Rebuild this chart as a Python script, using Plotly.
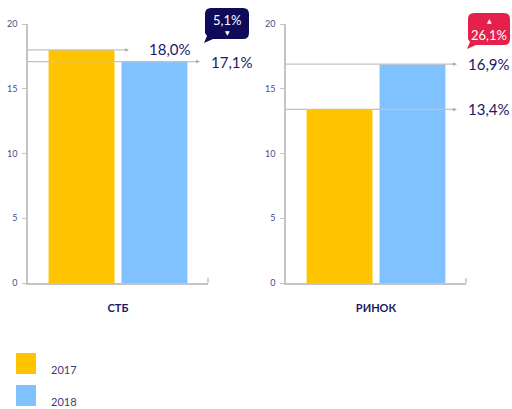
import plotly.graph_objects as go

# ---- data ----
categories = ["СТБ", "РИНОК"]
years = ["2017", "2018"]
values_2017 = [18.0, 13.4]
values_2018 = [17.1, 16.9]
changes = ["5,1%", "26,1%"]
change_dir = ["down", "up"]
y_ticks = [0, 5, 10, 15, 20]

colors = ["#FFC400", "#80C1FF"]
navy = "#1b1a66"
axis_grey = "#c4c4c4"
W, H = 512, 409
FONT = "Lato"


def px(x):
    return x / W


def py(y):
    return 1 - y / H


def fmt(v):
    return f"{v:.1f}".replace(".", ",") + "%"


fig = go.Figure()
series = [values_2017, values_2018]
axes = [("x", "y"), ("x2", "y2")]
for ci, cat in enumerate(categories):
    xa, ya = axes[ci]
    for si, yr in enumerate(years):
        fig.add_trace(go.Bar(
            x=[cat], y=[series[si][ci]], name=yr,
            marker=dict(color=colors[si], line=dict(width=0)),
            xaxis=xa, yaxis=ya, showlegend=False, hoverinfo="skip",
        ))

x_dom = [(28, 208), (286, 466)]
y_dom = [py(283), py(24)]

axis_common = dict(showgrid=False, zeroline=False, showline=True,
                   linecolor=axis_grey, linewidth=1.5, automargin=False)
layout = dict(
    width=W, height=H, autosize=False,
    margin=dict(l=0, r=0, t=0, b=0, pad=0, autoexpand=False),
    paper_bgcolor="white", plot_bgcolor="white",
    barmode="group", bargap=0.19, bargroupgap=0.096,
    showlegend=False,
    font=dict(family=FONT, color=navy),
)
for i, (a, b) in enumerate(x_dom):
    sfx = "" if i == 0 else str(i + 1)
    layout["xaxis" + sfx] = dict(
        domain=[px(a), px(b)], anchor="y" + sfx, ticks="",
        tickfont=dict(family=FONT, size=11, color=navy, weight="bold"),
        ticklabelstandoff=14, fixedrange=True, **axis_common)
    layout["yaxis" + sfx] = dict(
        domain=y_dom, anchor="x" + sfx, range=[0, 20],
        tickvals=y_ticks, ticktext=[str(t) for t in y_ticks],
        ticks="outside", ticklen=4, tickcolor=axis_grey, tickwidth=1,
        tickfont=dict(family=FONT, size=9, color="#4b4a8c"),
        ticklabelstandoff=3, fixedrange=True, **axis_common)
fig.update_layout(**layout)

shapes = []
annotations = []

# right-end ticks of x axes
for a, b in x_dom:
    shapes.append(dict(type="line", xref="paper", yref="paper",
                       x0=px(b), x1=px(b), y0=py(283), y1=py(278),
                       line=dict(color=axis_grey, width=1.5)))

# reference lines + value labels
line_ends = [[128, 199], [456, 456]]
label_x = [[147, 209], [466, 466]]
for ci in range(len(categories)):
    yref = "y" if ci == 0 else "y2"
    for si in range(len(years)):
        v = series[si][ci]
        x0 = x_dom[ci][0]
        x1 = line_ends[ci][si]
        shapes.append(dict(type="line", xref="paper", yref=yref,
                           x0=px(x0), x1=px(x1), y0=v, y1=v,
                           line=dict(color="#c2c2c2", width=1.3)))
        shapes.append(dict(type="path", xref="paper", yref=yref,
                           path=f"M {px(x1-3)} {v+0.13} L {px(x1+1)} {v} L {px(x1-3)} {v-0.13} Z",
                           fillcolor="#a8a8a8", line=dict(width=0)))
        annotations.append(dict(
            xref="paper", yref=yref, x=px(label_x[ci][si]), y=v,
            xanchor="left", yanchor="middle", yshift=1 if (ci == 0 and si == 0) else 0,
            text=fmt(v), showarrow=False,
            font=dict(family=FONT, size=15, color=navy)))

# change badges
badges = [dict(x0=205, x1=249, y0=8, y1=39, color="#0d0b5a"),
          dict(x0=468, x1=510, y0=13, y1=45, color="#e5204b")]
for ci, bd in enumerate(badges):
    x0, x1, y0, y1, r = bd["x0"], bd["x1"], bd["y0"], bd["y1"], 6
    path = (f"M {px(x0+r)} {py(y0)} L {px(x1-r)} {py(y0)} "
            f"Q {px(x1)} {py(y0)} {px(x1)} {py(y0+r)} "
            f"L {px(x1)} {py(y1-r)} Q {px(x1)} {py(y1)} {px(x1-r)} {py(y1)} "
            f"L {px(x0+8)} {py(y1)} L {px(x0-1)} {py(y1+4)} L {px(x0+2)} {py(y1-3)} "
            f"L {px(x0)} {py(y1-r)} L {px(x0)} {py(y0+r)} "
            f"Q {px(x0)} {py(y0)} {px(x0+r)} {py(y0)} Z")
    shapes.append(dict(type="path", xref="paper", yref="paper", path=path,
                       fillcolor=bd["color"], line=dict(width=0)))
    cx = px((x0 + x1) / 2)
    if change_dir[ci] == "down":
        txt_y, tri_y, tri = y0 + 12, y0 + 25, "▼"
    else:
        txt_y, tri_y, tri = y0 + 22, y0 + 8, "▲"
    annotations.append(dict(xref="paper", yref="paper", x=cx, y=py(txt_y),
                            text=changes[ci], showarrow=False,
                            xanchor="center", yanchor="middle",
                            font=dict(family=FONT, size=13, color="white")))
    annotations.append(dict(xref="paper", yref="paper", x=cx, y=py(tri_y),
                            text=tri, showarrow=False,
                            xanchor="center", yanchor="middle",
                            font=dict(family="DejaVu Sans", size=6, color="white")))

# manual legend
leg_y = [353, 385]
for si, yr in enumerate(years):
    shapes.append(dict(type="rect", xref="paper", yref="paper",
                       x0=px(16), x1=px(36), y0=py(leg_y[si]), y1=py(leg_y[si] + 21),
                       fillcolor=colors[si], line=dict(width=0)))
    annotations.append(dict(xref="paper", yref="paper", x=px(49), y=py(leg_y[si] + 16),
                            text=yr, showarrow=False, xanchor="left", yanchor="middle",
                            font=dict(family=FONT, size=11, color="#3c3b7c")))

fig.update_layout(shapes=shapes, annotations=annotations)
fig.write_html("out.html")
